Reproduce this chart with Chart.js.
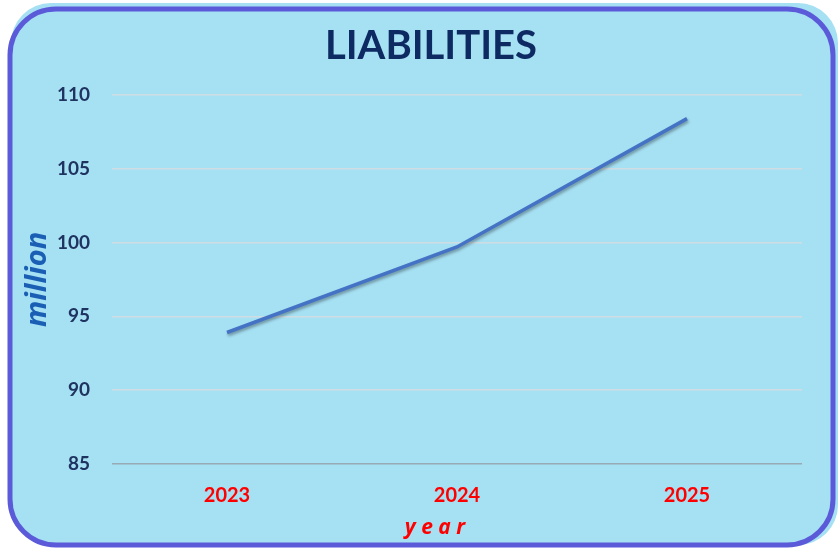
<!DOCTYPE html>
<html>
<head>
<meta charset="utf-8">
<script src="https://cdn.jsdelivr.net/npm/chart.js@4/dist/chart.umd.min.js"></script>
<style>
  html, body { margin: 0; padding: 0; background: #ffffff; }
  #wrap { width: 840px; height: 548px; }
</style>
</head>
<body>
<div id="wrap"><canvas id="myChart" width="840" height="548"></canvas></div>
<script>
const years = ['2023', '2024', '2025']
const liabilities = [93.9, 99.7, 108.4]
const yTicks = [85, 90, 95, 100, 105, 110]

// rounded frame behind the chart
const framePlugin = {
    id: 'frame',
    beforeDraw(chart) {
        const c = chart.ctx
        c.save()
        c.fillStyle = '#a6e0f3'
        c.beginPath()
        c.roundRect(11, 3, 827, 542, 40)
        c.fill()
        c.strokeStyle = '#5b5bd9'
        c.lineWidth = 5
        c.beginPath()
        c.roundRect(10, 9, 823, 536, 46)
        c.stroke()
        c.restore()
    }
}

// soft shadow under the line
const shadowPlugin = {
    id: 'lineShadow',
    beforeDatasetsDraw(chart) {
        const c = chart.ctx
        c.save()
        c.shadowColor = 'rgba(0,0,0,0.35)'
        c.shadowBlur = 3
        c.shadowOffsetX = 1
        c.shadowOffsetY = 2
    },
    afterDatasetsDraw(chart) {
        chart.ctx.restore()
    }
}

// move the title boxes so they sit where the original has them
const titleShift = {
    id: 'titleShift',
    afterLayout(chart) {
        chart.boxes.forEach(b => {
            if (!b.options || b.options.text === undefined) return
            if (b.options.text === 'LIABILITIES') { b.left = 60; b.right = 802 }
            if (b.options.text === 'y e a r') { b.left = 60; b.right = 810 }
        })
    }
}

const ctx = document.getElementById('myChart').getContext('2d')
const chart = new Chart(ctx, {
    type: 'line',
    data: {
        labels: years,
        datasets: [{
            label: 'Liabilities',
            data: liabilities,
            borderColor: '#4472c4',
            borderWidth: 3.5,
            pointRadius: 0,
            tension: 0,
            fill: false
        }]
    },
    options: {
        responsive: false,
        animation: false,
        layout: { padding: { top: 0, right: 38, left: 0, bottom: 7 } },
        plugins: {
            legend: { display: false },
            tooltip: { enabled: false },
            title: {
                display: true,
                text: 'LIABILITIES',
                color: '#0d2a63',
                font: { family: 'Lato', size: 40, weight: 'bold' },
                padding: { top: 22, bottom: 25 }
            },
            subtitle: {
                display: true,
                position: 'bottom',
                text: 'y e a r',
                color: '#ff0000',
                padding: { top: 5, bottom: 0 },
                font: { family: 'Open Sans', size: 21, weight: 'bold', style: 'italic' }
            }
        },
        scales: {
            x: {
                offset: true,
                afterFit(axis) {
                    axis.height = 47
                },
                grid: { display: false, drawTicks: false },
                border: { display: false },
                ticks: {
                    color: '#ff0000',
                    padding: 20,
                    font: { family: 'Lato', size: 20, weight: 'bold' }
                }
            },
            y: {
                min: 85,
                max: 110,
                afterBuildTicks(axis) {
                    axis.ticks = yTicks.map(v => ({ value: v }))
                },
                afterFit(axis) {
                    axis.width = 112
                },
                grid: {
                    drawTicks: false,
                    lineWidth: 1.5,
                    color: (c) => c.tick.value === 85 ? '#98aab4' : '#cfdde3'
                },
                border: { display: false },
                ticks: {
                    color: '#1f3360',
                    padding: 22,
                    font: { family: 'Lato', size: 19, weight: 'bold' }
                },
                title: {
                    display: true,
                    text: 'million',
                    color: '#1a5fb4',
                    padding: { top: 20, bottom: 0 },
                    font: { family: 'Open Sans', size: 29, weight: 'bold', style: 'italic' }
                }
            }
        }
    },
    plugins: [framePlugin, shadowPlugin, titleShift]
})
</script>
</body>
</html>
